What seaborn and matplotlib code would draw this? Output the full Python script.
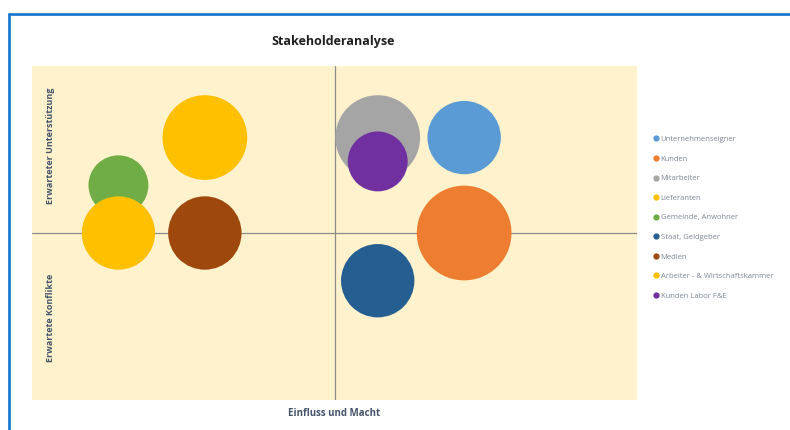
import pandas as pd
import seaborn as sns
from matplotlib import pyplot as plt
from matplotlib.lines import Line2D

# stakeholder data (x = Einfluss, y = Unterstuetzung, size = bubble size)
stakeholder = ["Unternehmenseigner", "Kunden", "Mitarbeiter", "Lieferanten",
               "Gemeinde, Anwohner", "Staat, Geldgeber", "Medien",
               "Arbeiter - & Wirtschaftskammer", "Kunden Labor F&E"]
einfluss = [5, 5, 4, 2, 1, 4, 2, 1, 4]
unterstuetzung = [5.5, 3.5, 5.5, 5.5, 4.5, 2.5, 3.5, 3.5, 5.0]
groesse = [3, 5, 4, 4, 2, 3, 3, 3, 2]
farben = ["#5B9BD5", "#ED7D31", "#A5A5A5", "#FFC000", "#70AD47",
          "#255E91", "#9E480E", "#FFC000", "#7030A0"]

df = pd.DataFrame({"Stakeholder": stakeholder, "x": einfluss,
                   "y": unterstuetzung, "size": groesse})

sns.set_style("white")
plt.rcParams["font.family"] = ["Open Sans", "DejaVu Sans"]

fig = plt.figure(figsize=(7.9, 4.3), dpi=100)
ax = fig.add_axes([32 / 790, 30 / 430, 605 / 790, 334 / 430])
ax.set_facecolor("#FFF2CC")

ax.axvline(3.5, color="#8C8C8C", lw=0.9, zorder=1)
ax.axhline(3.5, color="#8C8C8C", lw=0.9, zorder=1)

palette = dict(zip(stakeholder, farben))
sns.scatterplot(data=df, x="x", y="y", hue="Stakeholder", palette=palette,
                size="size", sizes=(2 * 930, 5 * 930), size_norm=(2, 5),
                edgecolor="none", alpha=1, legend=False, ax=ax, zorder=3)

ax.set_xlim(0, 7)
ax.set_ylim(0, 7)
ax.set_xticks([])
ax.set_yticks([])
for s in ax.spines.values():
    s.set_visible(False)
ax.set_xlabel("")
ax.set_ylabel("")

txt = "#44546A"
ax.text(0.21, 5.32, "Erwarteter Unterstützung", rotation=90, ha="center",
        va="center", fontsize=6.5, fontweight="bold", color=txt)
ax.text(0.21, 1.72, "Erwartete Konflikte", rotation=90, ha="center",
        va="center", fontsize=6.5, fontweight="bold", color=txt)

fig.text(333 / 790, 1 - 42 / 430, "Stakeholderanalyse", ha="center",
         va="center", fontsize=9, fontweight="bold", color="#1F1F1F")
fig.text(334 / 790, 1 - 413 / 430, "Einfluss und Macht", ha="center",
         va="center", fontsize=7, fontweight="bold", color=txt)

handles = [Line2D([], [], marker="o", ls="", color=c, markersize=3.5)
           for c in farben]
fig.legend(handles, stakeholder, loc="upper left",
           bbox_to_anchor=(650 / 790, 1 - 132 / 430), frameon=False,
           fontsize=5.5, labelcolor="#7F8794", handlelength=0.6,
           handletextpad=0.3, labelspacing=1.6, borderpad=0)

# blue frame of the embedded chart
fig.add_artist(Line2D([9 / 790, 1], [1 - 14 / 430] * 2, color="#1F7BD2", lw=2))
fig.add_artist(Line2D([9 / 790] * 2, [0, 1 - 14 / 430], color="#1F7BD2", lw=2))

fig.savefig("out.png", dpi=100, facecolor="white")
